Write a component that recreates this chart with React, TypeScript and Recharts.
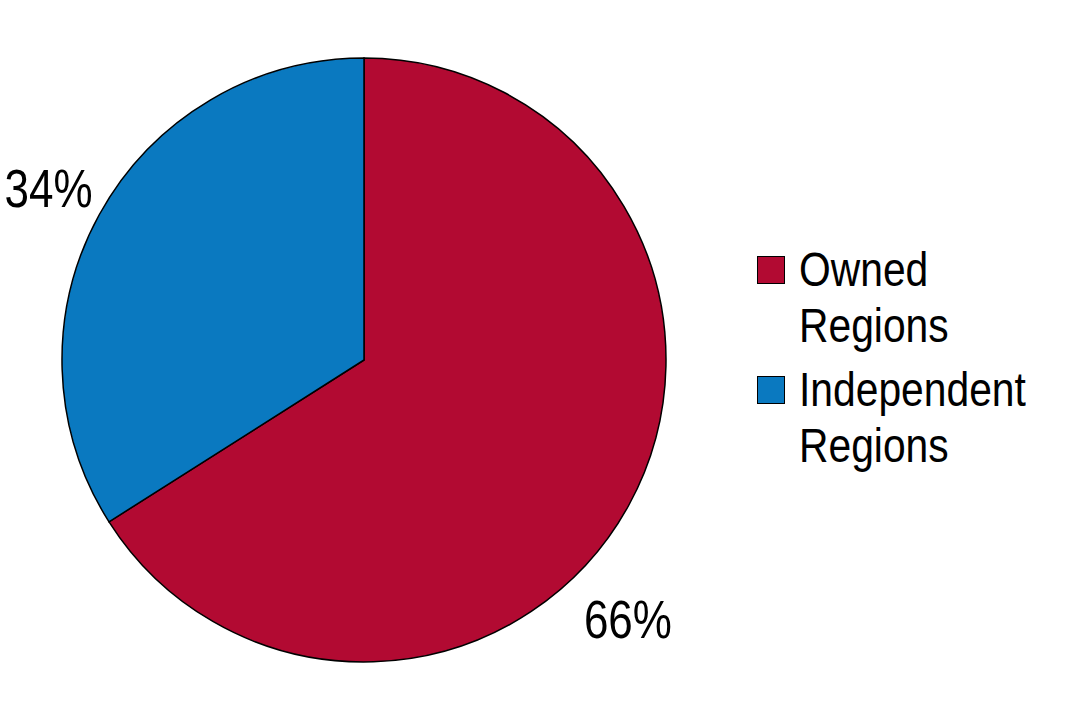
import React from 'react';
import { PieChart, Pie, Cell, Legend } from 'recharts';

const regions = ['Owned Regions', 'Independent Regions'];
const shares = [66, 34];
const colors = ['#B20A32', '#0A79C0'];

const data = regions.map((name, i) => ({ name, value: shares[i] }));

const FONT = '"Liberation Sans", Arial, sans-serif';
const RAD = Math.PI / 180;

// label angle / distance past the rim, per slice
const labelPlace = [
  { angle: -44.5, gap: 68 },
  { angle: 151.5, gap: 57 },
];

const renderLabel = (props: any) => {
  const { cx, cy, outerRadius, index, value } = props;
  const p = labelPlace[index];
  const r = outerRadius + p.gap;
  const x = cx + r * Math.cos(p.angle * RAD);
  const y = cy - r * Math.sin(p.angle * RAD);
  return (
    <text
      transform={`translate(${x},${y}) scale(0.83,1)`}
      fill="#000"
      fontSize={53}
      fontFamily={FONT}
      textAnchor="middle"
      dominantBaseline="central"
    >
      {`${value}%`}
    </text>
  );
};

const LegendContent = ({ payload }: any) => {
  const items = [...(payload || [])].sort((a: any, b: any) => regions.indexOf(a.value) - regions.indexOf(b.value));
  return (
    <div style={{ fontFamily: FONT, fontSize: 48, lineHeight: '56px', color: '#000' }}>
      {items.map((entry: any, i: number) => (
        <div key={i} style={{ display: 'flex', alignItems: 'flex-start', marginBottom: 8 }}>
          <div
            style={{
              width: 26,
              height: 26,
              marginTop: 14,
              marginRight: 14,
              background: entry.color,
              border: '1.5px solid #000',
              flexShrink: 0,
            }}
          />
          <div style={{ transform: 'scaleX(0.85)', transformOrigin: 'left center', whiteSpace: 'nowrap' }}>
            {entry.value.split(' ').map((w: string, j: number) => (
              <div key={j}>{w}</div>
            ))}
          </div>
        </div>
      ))}
    </div>
  );
};

export default function App() {
  return (
    <div style={{ position: 'absolute', left: 0, top: 0, width: 1082, height: 720, background: '#fff' }}>
      <PieChart width={1082} height={720} margin={{ top: 0, right: 0, bottom: 0, left: 0 }}>
        <Pie
          data={data}
          dataKey="value"
          nameKey="name"
          cx={364}
          cy={360}
          outerRadius={302}
          startAngle={90}
          endAngle={-270}
          stroke="#000"
          strokeWidth={1.5}
          label={renderLabel}
          labelLine={false}
          isAnimationActive={false}
        >
          {data.map((d, i) => (
            <Cell key={d.name} fill={colors[i]} />
          ))}
        </Pie>
        <Legend
          layout="vertical"
          verticalAlign="top"
          align="right"
          content={<LegendContent />}
          wrapperStyle={{ left: 757, top: 242, width: 320 }}
        />
      </PieChart>
    </div>
  );
}
